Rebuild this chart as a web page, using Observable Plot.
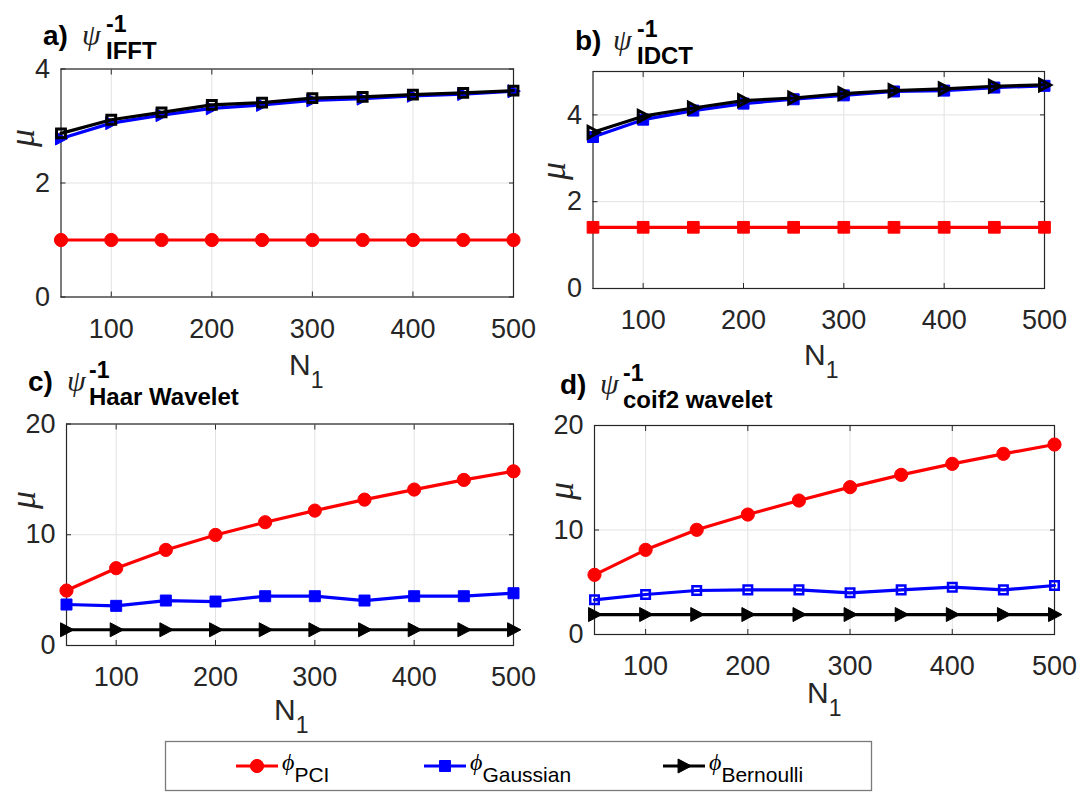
<!DOCTYPE html>
<html>
<head>
<meta charset="utf-8">
<script src="https://cdn.jsdelivr.net/npm/d3@7"></script>
<script src="https://cdn.jsdelivr.net/npm/@observablehq/plot@0.6"></script>
<style>
  body { margin: 0; background: #fff; }
  #fig { position: relative; width: 1084px; height: 794px; overflow: hidden; background: #fff;
         font-family: "Liberation Sans", Arial, sans-serif; }
  .panel { position: absolute; }
  #notes { position: absolute; left: 0; top: 0; pointer-events: none; }
</style>
</head>
<body>
<div id="fig"></div>
<script>
// Number of samples N1 on the x axis
const N1 = [50, 100, 150, 200, 250, 300, 350, 400, 450, 500];
const xTicks = [100, 200, 300, 400, 500];
const seriesNames = ["PCI", "Gaussian", "Bernoulli"];
const seriesColors = ["#ff0000", "#0000ff", "#000000"];

// a) inverse FFT basis
const ifftPCI       = [1.00, 1.00, 1.00, 1.00, 1.00, 1.00, 1.00, 1.00, 1.00, 1.00];
const ifftGaussian  = [2.78, 3.05, 3.19, 3.31, 3.37, 3.45, 3.48, 3.53, 3.56, 3.61];
const ifftBernoulli = [2.87, 3.11, 3.24, 3.37, 3.41, 3.49, 3.51, 3.55, 3.58, 3.62];
const ifftYTicks = [0, 2, 4];

// b) inverse DCT basis
const idctPCI       = [1.41, 1.41, 1.41, 1.41, 1.41, 1.41, 1.41, 1.41, 1.41, 1.41];
const idctGaussian  = [3.49, 3.89, 4.10, 4.26, 4.36, 4.45, 4.54, 4.56, 4.63, 4.67];
const idctBernoulli = [3.60, 3.97, 4.16, 4.33, 4.39, 4.49, 4.56, 4.60, 4.66, 4.69];
const idctYTicks = [0, 2, 4];

// c) Haar wavelet basis
const haarPCI       = [4.96, 6.98, 8.63, 9.98, 11.13, 12.18, 13.17, 14.08, 14.95, 15.73];
const haarGaussian  = [3.70, 3.58, 4.06, 3.97, 4.45, 4.45, 4.06, 4.45, 4.45, 4.72];
const haarBernoulli = [1.42, 1.42, 1.42, 1.42, 1.42, 1.42, 1.42, 1.42, 1.42, 1.42];
const haarYTicks = [0, 10, 20];

// d) coif2 wavelet basis
const coifPCI       = [5.71, 8.10, 10.02, 11.48, 12.82, 14.10, 15.28, 16.33, 17.29, 18.18];
const coifGaussian  = [3.32, 3.83, 4.21, 4.27, 4.27, 3.99, 4.27, 4.53, 4.27, 4.69];
const coifBernoulli = [1.91, 1.91, 1.91, 1.91, 1.91, 1.91, 1.91, 1.91, 1.91, 1.91];
const coifYTicks = [0, 10, 20];

// Right-pointing triangle marker
const triangleRight = {
  draw(context, size) {
    const r = Math.sqrt(size / Math.PI);
    context.moveTo(r * 1.05, 0);
    context.lineTo(-r * 0.85, -r);
    context.lineTo(-r * 0.85, r);
    context.closePath();
  }
};

const RED = seriesColors[0], BLUE = seriesColors[1], BLACK = seriesColors[2];
const filled = (symbol, r, color) => ({symbol, r, fill: color, stroke: color, strokeWidth: 1});
const hollow = (symbol, r, color, w) => ({symbol, r, fill: "none", stroke: color, strokeWidth: w});
const plain = (d) => `${d}`;

const panels = [
  {box: [0, 0, 540, 380], frame: [60.5, 513, 68.5, 296.5], yDomain: [0, 4], yTicks: ifftYTicks,
   values: [ifftPCI, ifftGaussian, ifftBernoulli],
   markers: [filled("circle", 6.6, RED), filled(triangleRight, 6.5, BLUE), hollow("square", 5, BLACK, 3)]},
  {box: [540, 0, 544, 380], frame: [592.5, 1044, 71, 288], yDomain: [0, 5], yTicks: idctYTicks,
   values: [idctPCI, idctGaussian, idctBernoulli],
   markers: [filled("square", 6.6, RED), filled("square", 6.2, BLUE), hollow(triangleRight, 5.8, BLACK, 3)]},
  {box: [0, 380, 540, 360], frame: [66, 513, 423.5, 645], yDomain: [0, 20], yTicks: haarYTicks,
   values: [haarPCI, haarGaussian, haarBernoulli],
   markers: [filled("circle", 6.6, RED), filled("square", 6.2, BLUE), filled(triangleRight, 7, BLACK)]},
  {box: [540, 380, 544, 360], frame: [594, 1054, 425, 634], yDomain: [0, 20], yTicks: coifYTicks,
   values: [coifPCI, coifGaussian, coifBernoulli],
   markers: [filled("circle", 6.6, RED), hollow("square", 4.8, BLUE, 2.5), filled(triangleRight, 7, BLACK)]}
];

const fig = document.getElementById("fig");

for (const p of panels) {
  const [left, top, w, h] = p.box;
  const [x0, x1, y0, y1] = p.frame;
  const dataMarks = [];
  p.values.forEach((vals, k) => {
    const rows = N1.map((n, i) => ({n, mu: vals[i], series: seriesNames[k]}));
    dataMarks.push(Plot.line(rows, {x: "n", y: "mu", stroke: seriesColors[k], strokeWidth: 3.2}));
    dataMarks.push(Plot.dot(rows, {x: "n", y: "mu", ...p.markers[k]}));
  });
  const chart = Plot.plot({
    width: w, height: h,
    marginLeft: x0 - left, marginRight: left + w - x1,
    marginTop: y0 - top, marginBottom: top + h - y1,
    style: {background: "transparent", overflow: "visible", color: "#262626",
            fontFamily: "'Liberation Sans', Arial, sans-serif", fontSize: "27px"},
    x: {domain: [50, 500]},
    y: {domain: p.yDomain},
    marks: [
      Plot.gridX(xTicks, {stroke: "#e2e2e2", strokeOpacity: 1, strokeWidth: 1}),
      Plot.gridY(p.yTicks, {stroke: "#e2e2e2", strokeOpacity: 1, strokeWidth: 1}),
      Plot.axisX(xTicks, {anchor: "bottom", tickSize: -5, tickPadding: 26.5, label: null,
                          tickFormat: plain, stroke: "#262626", fill: "#262626"}),
      Plot.axisX(xTicks, {anchor: "top", tickSize: -5, fill: "none", label: null, stroke: "#262626"}),
      Plot.axisY(p.yTicks, {anchor: "left", tickSize: -5, tickPadding: 16, label: null,
                            tickFormat: plain, stroke: "#262626", fill: "#262626"}),
      Plot.axisY(p.yTicks, {anchor: "right", tickSize: -5, fill: "none", label: null, stroke: "#262626"}),
      Plot.frame({stroke: "#262626", strokeWidth: 1.2}),
      ...dataMarks
    ]
  });
  chart.classList.add("panel");
  chart.style.left = left + "px";
  chart.style.top = top + "px";
  fig.appendChild(chart);
}

// Titles, axis labels and the shared legend
const notes = d3.select(fig).append("svg")
  .attr("id", "notes").attr("width", 1084).attr("height", 794);

const SANS = "'Liberation Sans', Arial, sans-serif";
const SERIF = "'Liberation Serif', 'DejaVu Serif', serif";

const titles = [
  {tag: "a)", sub: "IFFT",          x: 43,  psiX: 82,  scriptX: 106, base: 45},
  {tag: "b)", sub: "IDCT",          x: 575, psiX: 613, scriptX: 637, base: 49.5},
  {tag: "c)", sub: "Haar Wavelet",  x: 28,  psiX: 67,  scriptX: 89,  base: 391},
  {tag: "d)", sub: "coif2 wavelet", x: 560, psiX: 600, scriptX: 623, base: 394}
];
for (const t of titles) {
  const g = notes.append("g").attr("fill", "#000");
  g.append("text").attr("x", t.x).attr("y", t.base)
    .attr("font-family", SANS).attr("font-weight", "bold").attr("font-size", 28).text(t.tag);
  g.append("text").attr("x", t.psiX).attr("y", t.base)
    .attr("font-family", SERIF).attr("font-style", "italic").attr("font-size", 30).attr("fill", "#222").text("ψ");
  g.append("text").attr("x", t.scriptX).attr("y", t.base - 13)
    .attr("font-family", SANS).attr("font-weight", "bold").attr("font-size", 23).text("-1");
  g.append("text").attr("x", t.scriptX).attr("y", t.base + 14)
    .attr("font-family", SANS).attr("font-weight", "bold").attr("font-size", 24).text(t.sub);
}

const muLabels = [[22, 138], [553, 171], [23, 500], [561, 491]];
for (const [cx, cy] of muLabels) {
  notes.append("text").attr("transform", `translate(${cx},${cy}) rotate(-90)`)
    .attr("text-anchor", "middle").attr("dominant-baseline", "central")
    .attr("font-family", SERIF).attr("font-style", "italic").attr("font-size", 36)
    .attr("fill", "#262626").text("μ");
}

const nLabels = [[289, 375], [804, 365], [274, 720], [807, 703]];
for (const [x, y] of nLabels) {
  const t = notes.append("text").attr("x", x).attr("y", y)
    .attr("font-family", SANS).attr("font-size", 30).attr("fill", "#262626");
  t.append("tspan").text("N");
  t.append("tspan").attr("dy", 13).attr("font-size", 23).text("1");
}

// Legend
notes.append("rect").attr("x", 165.5).attr("y", 741.5).attr("width", 706).attr("height", 49)
  .attr("fill", "#fff").attr("stroke", "#7a7a7a").attr("stroke-width", 1.3);
const legendItems = [
  {lineX: 236, symbol: d3.symbolCircle, r: 6.6},
  {lineX: 424, symbol: d3.symbolSquare, r: 6.2},
  {lineX: 663, symbol: triangleRight, r: 7}
];
const legendY = 766;
legendItems.forEach((it, k) => {
  const c = seriesColors[k];
  notes.append("line").attr("x1", it.lineX).attr("x2", it.lineX + 42)
    .attr("y1", legendY).attr("y2", legendY).attr("stroke", c).attr("stroke-width", 3.2);
  notes.append("path")
    .attr("transform", `translate(${it.lineX + 21},${legendY})`)
    .attr("d", d3.symbol(it.symbol, it.r * it.r * Math.PI)())
    .attr("fill", c).attr("stroke", c);
  const t = notes.append("text").attr("x", it.lineX + 46).attr("y", legendY + 4)
    .attr("font-size", 21).attr("fill", "#000");
  t.append("tspan").attr("font-family", SERIF).attr("font-style", "italic").attr("font-size", 24).text("ϕ");
  t.append("tspan").attr("font-family", SANS).attr("dy", 12).text(seriesNames[k]);
});
</script>
</body>
</html>
